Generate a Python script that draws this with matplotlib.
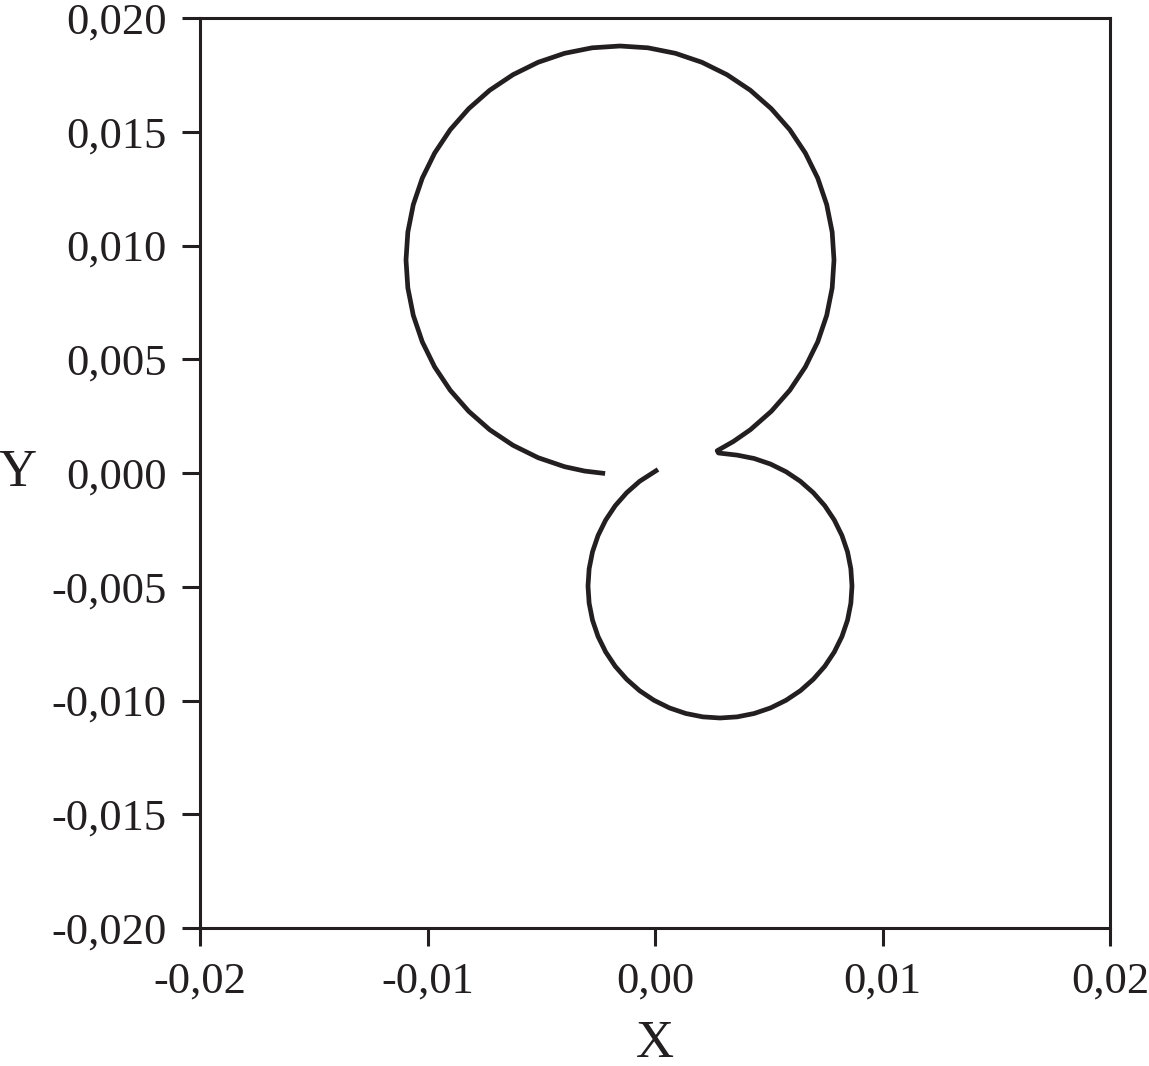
import numpy as np
import matplotlib
matplotlib.use("Agg")
import matplotlib.pyplot as plt
from matplotlib.ticker import FuncFormatter

### Trajectory (values in units of 1e-3)
# big loop from the open end at the bottom, round to the cusp, then the small loop
traj_x = [-2.193, -3.091, -3.974, -5.138, -6.242, -7.264, -8.189, -9.001, -9.684,
          -10.228, -10.624, -10.864, -10.945, -10.864, -10.624, -10.228, -9.684,
          -9.001, -8.189, -7.264, -6.242, -5.138, -3.974, -2.766, -1.538,
          -0.310, 0.897, 2.062, 3.165, 4.188, 5.112, 5.925, 6.607,
          7.152, 7.547, 7.788, 7.868, 7.788, 7.547, 7.152, 6.607,
          5.925, 5.112, 4.188, 3.447, 2.734, 2.791,
          3.614, 4.359, 5.077, 5.758, 6.389, 6.958, 7.460, 7.881,
          8.217, 8.462, 8.609, 8.659, 8.609, 8.462, 8.217, 7.881,
          7.460, 6.958, 6.389, 5.758, 5.077, 4.360, 3.614, 2.857,
          2.100, 1.354, 0.637, -0.044, -0.675, -1.244, -1.746, -2.167,
          -2.503, -2.747, -2.895, -2.945, -2.895, -2.747, -2.503, -2.167,
          -1.746, -1.244, -0.675, 0.132]
traj_y = [-0.022, 0.085, 0.277, 0.673, 1.218, 1.900, 2.712, 3.637, 4.659,
          5.763, 6.927, 8.135, 9.363, 10.591, 11.798, 12.963, 14.066,
          15.089, 16.013, 16.826, 17.508, 18.053, 18.448, 18.689, 18.769,
          18.689, 18.448, 18.053, 17.508, 16.826, 16.013, 15.089, 14.066,
          12.963, 11.798, 10.591, 9.363, 8.135, 6.927, 5.763, 4.659,
          3.637, 2.712, 1.900, 1.386, 0.980, 0.879,
          0.785, 0.637, 0.393, 0.057, -0.364, -0.866, -1.435, -2.066,
          -2.747, -3.464, -4.210, -4.967, -5.724, -6.470, -7.187, -7.868,
          -8.499, -9.068, -9.570, -9.991, -10.327, -10.571, -10.719, -10.769,
          -10.719, -10.571, -10.327, -9.991, -9.570, -9.068, -8.499, -7.868,
          -7.187, -6.470, -5.724, -4.967, -4.210, -3.464, -2.747, -2.066,
          -1.435, -0.866, -0.364, 0.154]

x_ticks = [-0.02, -0.01, 0.00, 0.01, 0.02]
y_ticks = [-0.020, -0.015, -0.010, -0.005, 0.000, 0.005, 0.010, 0.015, 0.020]

ink = '#231f20'
plt.rcParams['font.family'] = ['Liberation Serif', 'DejaVu Serif']

fig = plt.figure(figsize=(11.49, 10.66), dpi=100)
ax = fig.add_axes([200/1149, 138/1066, 910/1149, 910/1066])

x = np.array(traj_x) * 1e-3
y = np.array(traj_y) * 1e-3
ax.plot(x, y, color=ink, linewidth=3.4, solid_capstyle='butt', solid_joinstyle='round')

ax.set_xlim(-0.02, 0.02)
ax.set_ylim(-0.02, 0.02)
ax.set_xticks(x_ticks)
ax.set_yticks(y_ticks)
# comma as decimal separator, plain hyphen for the sign
ax.xaxis.set_major_formatter(FuncFormatter(lambda v, p: ('%.2f' % v).replace('.', ',')))
ax.yaxis.set_major_formatter(FuncFormatter(lambda v, p: ('%.3f' % v).replace('.', ',')))

ax.tick_params(direction='out', length=13, width=2.2, color=ink, pad=11,
               labelsize=32, labelcolor=ink)
for sp in ax.spines.values():
    sp.set_linewidth(2.2)
    sp.set_color(ink)

ax.set_xlabel('X', fontsize=38, color=ink)
ax.set_ylabel('Y', fontsize=38, color=ink, rotation=0)
ax.xaxis.set_label_coords(0.5, -0.127)
ax.yaxis.set_label_coords(-0.201, 0.5)
ax.xaxis.label.set_va('center')
ax.yaxis.label.set_va('center')
ax.yaxis.label.set_ha('center')

fig.savefig('out.png', dpi=100)
